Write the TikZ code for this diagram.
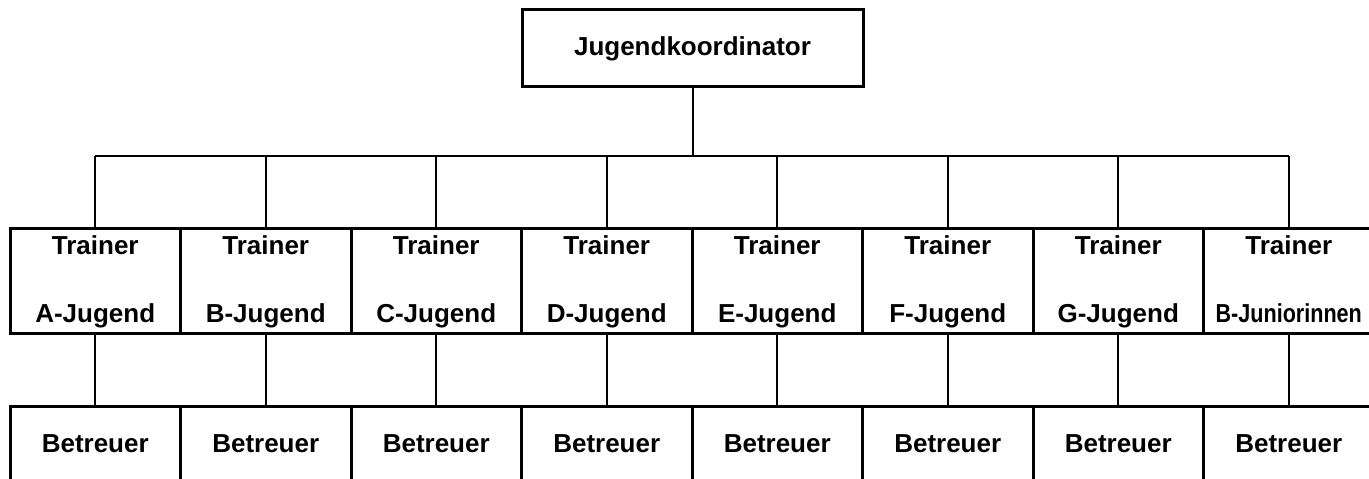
\documentclass[tikz,border=0pt]{standalone}
\usepackage{graphicx}
\usepackage{fontspec}
\setmainfont{Liberation Sans}
\usetikzlibrary{positioning}

\begin{document}
\begin{tikzpicture}[x=1pt,y=1pt,
    box/.style={draw, line width=3pt, minimum width=170.5pt, inner sep=0pt,
      outer sep=0pt, align=center, font=\fontsize{26}{30}\selectfont\bfseries},
    conn/.style={line width=2pt}]
  \useasboundingbox (0,0) rectangle (1369,479);
  \clip (0,0) rectangle (1369,479);
  % oben
  \node[box, minimum width=341pt, minimum height=77pt] (koord) at (692.5,430.5) {Jugendkoordinator};
  \coordinate (bus) at (692.5,323);
  % Trainer und Betreuer
  \foreach \i/\name in {1/A-Jugend, 2/B-Jugend, 3/C-Jugend, 4/D-Jugend, 5/E-Jugend,
      6/F-Jugend, 7/G-Jugend, 8/{\scalebox{0.83}[1]{B-Juniorinnen}}}{
      \node[box, minimum height=105pt] (t\i) at ({10+170.5*(\i-0.5)},197.5) {Trainer\\[38pt]\name\vphantom{Jg}};
      \node[box, minimum height=74pt] (b\i) at ({10+170.5*(\i-0.5)},35) {Betreuer};
  }
  \draw[conn] (koord.south) -- (bus);
  \draw[conn] (t1.north |- bus) -- (t8.north |- bus);
  \foreach \i in {1,...,8}{
      \draw[conn] (t\i.north) -- (t\i.north |- bus);
      \draw[conn] (t\i.south) -- (b\i.north);
  }
\end{tikzpicture}
\end{document}
